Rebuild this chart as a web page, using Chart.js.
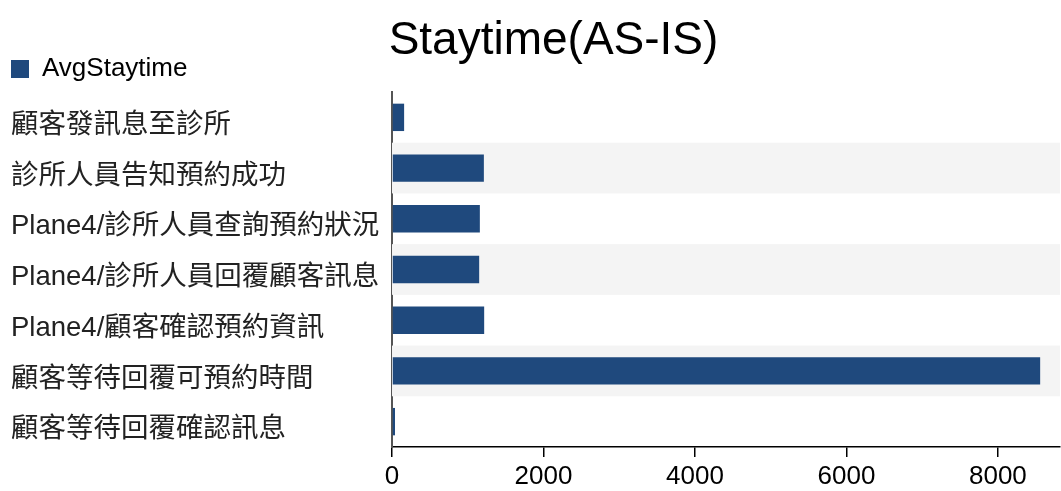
<!DOCTYPE html>
<html>
<head>
<meta charset="utf-8">
<script src="https://cdn.jsdelivr.net/npm/chart.js@4/dist/chart.umd.min.js"></script>
<style>
  html, body { margin: 0; padding: 0; background: #fff; }
  #wrap { width: 1061px; height: 491px; }
</style>
</head>
<body>
<div id="wrap"><canvas id="c" width="1061" height="491"></canvas></div>
<script>
const categories = [
  "顧客發訊息至診所",
  "診所人員告知預約成功",
  "Plane4/診所人員查詢預約狀況",
  "Plane4/診所人員回覆顧客訊息",
  "Plane4/顧客確認預約資訊",
  "顧客等待回覆可預約時間",
  "顧客等待回覆確認訊息"
];
const avgStaytime = [160, 1213, 1160, 1151, 1217, 8558, 40];
const xTickValues = [0, 2000, 4000, 6000, 8000];
const seriesName = "AvgStaytime";
const chartTitle = "Staytime(AS-IS)";

const bandPlugin = {
  id: 'bands',
  beforeDatasetsDraw(chart) {
    const {ctx, chartArea, scales} = chart;
    const y = scales.y;
    const n = categories.length;
    const step = (y.bottom - y.top) / n;
    ctx.save();
    ctx.fillStyle = '#f4f4f4';
    for (let i = 1; i < n; i += 2) {
      const c = y.getPixelForValue(i);
      ctx.fillRect(chartArea.left, c - step / 2, chartArea.right - chartArea.left, step);
    }
    ctx.restore();
  }
};

const titleShift = {
  id: 'titleShift',
  afterLayout(chart) {
    if (chart.titleBlock) { chart.titleBlock.left += 36; }
  }
};

const fontFam = '"Liberation Sans", Arial, "Noto Sans CJK TC", sans-serif';

new Chart(document.getElementById('c'), {
  type: 'bar',
  data: {
    labels: categories,
    datasets: [{
      label: seriesName,
      data: avgStaytime,
      backgroundColor: '#1f497d',
      borderWidth: 0,
      categoryPercentage: 1,
      barPercentage: 0.54
    }]
  },
  plugins: [bandPlugin, titleShift],
  options: {
    indexAxis: 'y',
    responsive: false,
    animation: false,
    layout: { padding: { top: 0, left: 11, right: 1, bottom: 0 } },
    plugins: {
      title: {
        display: true,
        text: chartTitle,
        color: '#000',
        font: { family: fontFam, size: 46, weight: 'normal', lineHeight: 1.0 },
        padding: { top: 18, bottom: -8 }
      },
      legend: {
        display: true,
        position: 'top',
        align: 'start',
        labels: {
          color: '#000',
          font: { family: fontFam, size: 26 },
          boxWidth: 18,
          boxHeight: 18,
          padding: 0
        }
      },
      tooltip: { enabled: false }
    },
    scales: {
      x: {
        min: 0,
        max: 8820,
        afterBuildTicks(axis) {
          axis.ticks = xTickValues.map(v => ({ value: v }));
        },
        afterFit(scale) { scale.height = 44; },
        ticks: {
          autoSkip: false,
          color: '#000',
          padding: 4,
          font: { family: fontFam, size: 26 },
          maxRotation: 0,
          callback: (v) => String(v)
        },
        grid: { drawOnChartArea: false, drawTicks: true, tickLength: 10, color: '#000', lineWidth: 1.5 },
        border: { display: true, color: '#000', width: 1.5 }
      },
      y: {
        afterFit(scale) { scale.width = 381; },
        ticks: {
          crossAlign: 'far',
          color: '#222',
          padding: 8,
          labelOffset: 8,
          font: { family: fontFam, size: 27.5 }
        },
        grid: { display: false, drawTicks: false },
        border: { display: true, color: '#555', width: 2 }
      }
    }
  }
});
</script>
</body>
</html>
